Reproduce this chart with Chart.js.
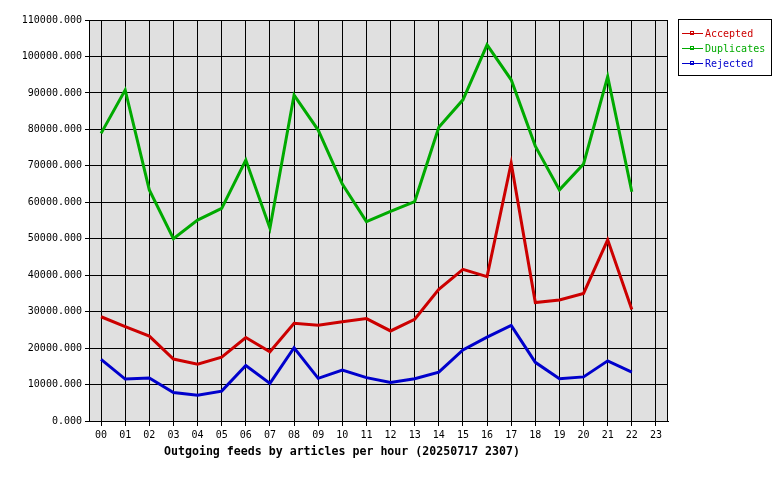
<!DOCTYPE html>
<html>
<head>
<meta charset="utf-8">
<script src="https://cdn.jsdelivr.net/npm/chart.js@4/dist/chart.umd.min.js"></script>
<style>
  html, body { margin: 0; padding: 0; background: #fff; }
  canvas { display: block; }
</style>
</head>
<body>
<canvas id="feeds" width="780" height="480"></canvas>
<script>
const hours = ['00', '01', '02', '03', '04', '05', '06', '07', '08', '09', '10', '11',
               '12', '13', '14', '15', '16', '17', '18', '19', '20', '21', '22', '23'];

const accepted = [28600, 25900, 23300, 17000, 15600, 17500, 22900, 19000, 26800, 26300, 27200, 28100,
                  24700, 27900, 36100, 41600, 39600, 70700, 32500, 33200, 35000, 49700, 30600, null];

const duplicates = [78900, 90800, 63400, 50000, 55100, 58300, 71600, 52900, 89400, 79800, 65000, 54700,
                    57500, 60200, 80600, 88100, 103200, 93600, 75400, 63400, 70500, 94500, 62900, null];

const rejected = [16900, 11500, 11800, 7800, 7100, 8200, 15200, 10300, 20100, 11700, 14000, 11900,
                  10600, 11600, 13400, 19500, 23000, 26200, 16100, 11600, 12100, 16500, 13400, null];

const chart_title = 'Outgoing feeds by articles per hour (20250717 2307)';

Chart.defaults.font.family = "'DejaVu Sans Mono', monospace";
Chart.defaults.font.size = 10;
Chart.defaults.color = '#000';

// grey plot background + frame, like the old gd graphs
const plot_frame = {
    id: 'plot_frame',
    beforeDraw(chart) {
        const { ctx, chartArea: a } = chart;
        ctx.save();
        ctx.fillStyle = '#e0e0e0';
        ctx.fillRect(a.left, a.top, a.right - a.left, a.bottom - a.top);
        ctx.restore();
    },
    afterDraw(chart) {
        const { ctx, chartArea: a } = chart;
        ctx.save();
        ctx.strokeStyle = '#000';
        ctx.lineWidth = 1;
        ctx.strokeRect(a.left + 0.5, a.top + 0.5, a.right - a.left - 1, a.bottom - a.top);

        // bottom title
        ctx.font = "bold 11.6px 'DejaVu Sans Mono', monospace";
        ctx.fillStyle = '#000';
        ctx.textAlign = 'center';
        ctx.textBaseline = 'middle';
        ctx.fillText(chart_title, 342, 452);

        // boxed legend on the right
        ctx.fillStyle = '#fff';
        ctx.fillRect(678, 19, 93, 56);
        ctx.strokeRect(678.5, 19.5, 93, 56);
        ctx.font = "10px 'DejaVu Sans Mono', monospace";
        ctx.textAlign = 'left';
        chart.data.datasets.forEach((ds, i) => {
            const y = 33 + i * 15;
            ctx.strokeStyle = ds.borderColor;
            ctx.beginPath();
            ctx.moveTo(682, y + 0.5);
            ctx.lineTo(703, y + 0.5);
            ctx.stroke();
            ctx.strokeRect(690.5, y - 1.5, 3, 3);
            ctx.fillStyle = ds.borderColor;
            ctx.fillText(ds.label, 705, y + 1);
        });
        ctx.restore();
    }
};

new Chart(
    'feeds',
    {
        type: 'line',
        data: {
            labels: hours,
            datasets: [
                { label: 'Accepted', data: accepted, borderColor: '#cc0000' },
                { label: 'Duplicates', data: duplicates, borderColor: '#00aa00' },
                { label: 'Rejected', data: rejected, borderColor: '#0000cc' }
            ]
        },
        options: {
            responsive: false,
            animation: false,
            layout: {
                padding: { left: 0, top: 20, right: 112, bottom: 0 }
            },
            elements: {
                point: { radius: 0 },
                line: { borderWidth: 3, tension: 0, borderJoinStyle: 'miter' }
            },
            scales: {
                x: {
                    type: 'category',
                    offset: true,
                    afterFit: (scale) => { scale.height = 59; },
                    grid: {
                        offset: false,
                        color: '#000',
                        tickLength: 5
                    },
                    border: { color: '#000' },
                    ticks: {
                        padding: 3,
                        maxRotation: 0,
                        autoSkip: false
                    }
                },
                y: {
                    min: 0,
                    max: 110000,
                    afterFit: (scale) => { scale.width = 89; },
                    grid: {
                        color: '#000',
                        tickLength: 4
                    },
                    border: { color: '#000' },
                    ticks: {
                        stepSize: 10000,
                        padding: 3,
                        callback: (value) => value.toFixed(3)
                    }
                }
            },
            plugins: {
                legend: { display: false },
                title: { display: false },
                tooltip: { enabled: false }
            }
        },
        plugins: [plot_frame]
    }
);
</script>
</body>
</html>
